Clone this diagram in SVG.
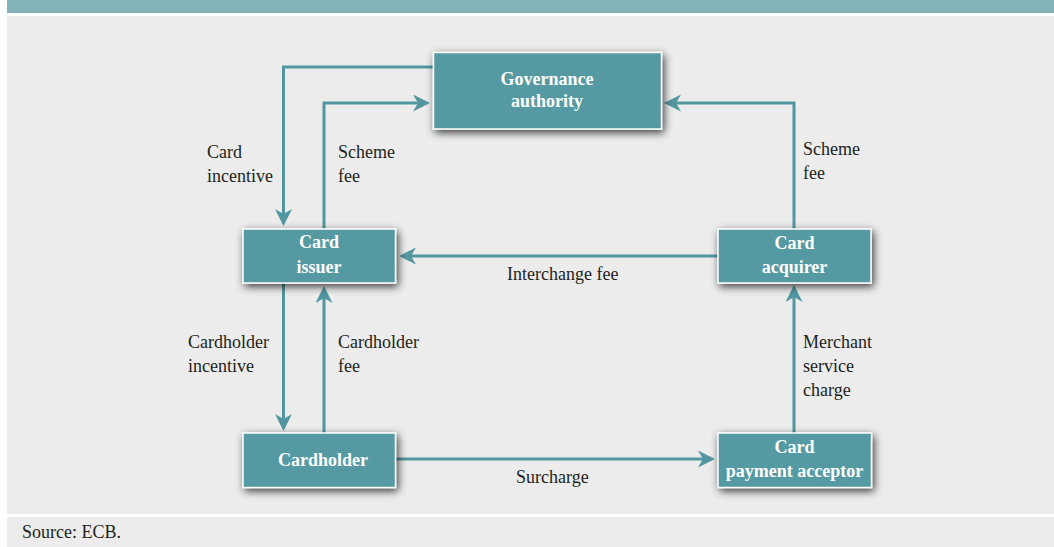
<svg xmlns="http://www.w3.org/2000/svg" width="1054" height="547" viewBox="0 0 1054 547">
<style>
.box{fill:#549aa2;stroke:#ffffff;stroke-width:1.5;filter:url(#sh)}
.bt{font-family:"Liberation Serif","Times New Roman",serif;font-size:18px;font-weight:bold;fill:#ffffff;text-anchor:middle}
.lt{font-family:"Liberation Serif","Times New Roman",serif;font-size:18px;fill:#231f20}
.cn{fill:none;stroke:#52979f;stroke-width:3;marker-end:url(#ah)}
</style>
<defs>
<filter id="sh" x="-20%" y="-40%" width="140%" height="180%">
<feGaussianBlur in="SourceAlpha" stdDeviation="4"/>
<feOffset dx="2" dy="3" result="b"/>
<feComponentTransfer><feFuncA type="linear" slope="0.75"/></feComponentTransfer>
<feMerge><feMergeNode/><feMergeNode in="SourceGraphic"/></feMerge>
</filter>
<marker id="ah" markerUnits="userSpaceOnUse" markerWidth="18" markerHeight="18" refX="11" refY="8.5" orient="auto">
<path d="M0,0 L17,8.5 L0,17 L5,8.5 Z" fill="#52979f"/>
</marker>
</defs>
<rect x="0" y="0" width="1054" height="547" fill="#ffffff"/>
<rect x="7" y="0" width="1047" height="13" fill="#84b4bb"/>
<rect x="7" y="16" width="1047" height="498" fill="#ebeceb"/>
<rect x="7" y="517" width="1047" height="30" fill="#ebeceb"/>
<text class="lt" x="22" y="538">Source: ECB.</text>

<g id="connectors">
<path class="cn" d="M433,67 H283.5 V220"/>
<path class="cn" d="M324,229 V103 H424"/>
<path class="cn" d="M794,229 V103 H670"/>
<path class="cn" d="M718,256 H405"/>
<path class="cn" d="M283.5,283 V425"/>
<path class="cn" d="M324,433 V292"/>
<path class="cn" d="M794,433 V291"/>
<path class="cn" d="M396,459 H709"/>
<text class="lt" x="207" y="158">Card</text>
<text class="lt" x="207" y="182">incentive</text>
<text class="lt" x="338" y="158">Scheme</text>
<text class="lt" x="338" y="182">fee</text>
<text class="lt" x="803" y="155">Scheme</text>
<text class="lt" x="803" y="179">fee</text>
<text class="lt" x="507" y="280">Interchange fee</text>
<text class="lt" x="188" y="348">Cardholder</text>
<text class="lt" x="188" y="372">incentive</text>
<text class="lt" x="338" y="348">Cardholder</text>
<text class="lt" x="338" y="372">fee</text>
<text class="lt" x="803" y="348">Merchant</text>
<text class="lt" x="803" y="372">service</text>
<text class="lt" x="803" y="396">charge</text>
<text class="lt" x="516" y="483">Surcharge</text>
</g>

<g id="governance">
<rect class="box" x="433.5" y="52.5" width="228" height="76.5"/>
<text class="bt" x="547" y="85">Governance</text>
<text class="bt" x="547" y="107">authority</text>
</g>
<g id="card-issuer">
<rect class="box" x="243" y="229" width="152.5" height="54"/>
<text class="bt" x="319" y="248">Card</text>
<text class="bt" x="319" y="273">issuer</text>
</g>
<g id="card-acquirer">
<rect class="box" x="718" y="229" width="153" height="54"/>
<text class="bt" x="794.5" y="249">Card</text>
<text class="bt" x="794.5" y="273">acquirer</text>
</g>
<g id="cardholder">
<rect class="box" x="243" y="433" width="152.5" height="54.5"/>
<text class="bt" x="323" y="466">Cardholder</text>
</g>
<g id="card-payment-acceptor">
<rect class="box" x="718" y="433" width="153.5" height="54.5"/>
<text class="bt" x="794.5" y="453">Card</text>
<text class="bt" x="794.5" y="477">payment acceptor</text>
</g>
</svg>
